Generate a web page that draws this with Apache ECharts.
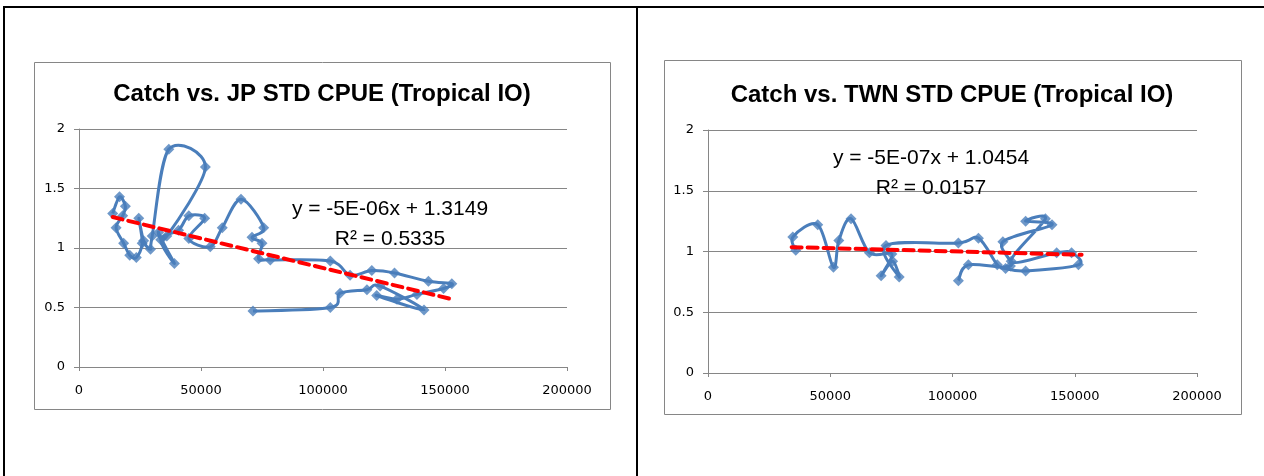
<!DOCTYPE html>
<html>
<head>
<meta charset="utf-8">
<script src="https://cdn.jsdelivr.net/npm/echarts@6.0.0/dist/echarts.min.js"></script>
<style>
html, body { margin: 0; padding: 0; background: #fff; }
#main { width: 1264px; height: 476px; }
</style>
</head>
<body>
<div id="main"></div>
<script>
// axis ranges / ticks (same for both panels)
var xTicks = [0, 50000, 100000, 150000, 200000];
var yTicks = [0, 0.5, 1, 1.5, 2];

// JP STD CPUE vs catch, in series order
var jpCatch = [13800, 16600, 19000, 17900, 15200, 18300, 20800, 23500, 25900, 24500,
    26500, 29300, 30000, 36800, 51800, 36000, 32600, 39100, 33500, 40800,
    45000, 51500, 45000, 53800, 58700, 66400, 75700, 70900, 75000, 73600,
    78400, 103000, 111100, 120000, 129300, 143200, 152800, 149400, 138500, 130300,
    122000, 141400, 123400, 118000, 107000, 103000, 71300];
var jpCpue = [1.29, 1.43, 1.35, 1.27, 1.17, 1.04, 0.94, 0.92, 1.04, 1.25,
    1.06, 0.99, 1.10, 1.83, 1.68, 1.10, 1.13, 0.87, 1.07, 1.15,
    1.27, 1.25, 1.08, 1.01, 1.17, 1.41, 1.17, 1.09, 1.04, 0.91,
    0.90, 0.89, 0.77, 0.81, 0.79, 0.72, 0.70, 0.66, 0.61, 0.57,
    0.60, 0.48, 0.68, 0.65, 0.62, 0.50, 0.47];
// linear trend line ends
var jpTrendX = [13800, 152800];
var jpTrendY = [1.26, 0.57];

// TWN STD CPUE vs catch
var twnCatch = [35900, 34700, 44900, 51300, 53500, 58500, 66000, 75200, 70800, 75500,
    78200, 72800, 102400, 110600, 118300, 121700, 129900, 151500, 148700, 142600,
    124000, 138000, 129900, 140700, 120600, 123700, 106500, 102400];
var twnCpue = [1.01, 1.12, 1.22, 0.87, 1.09, 1.27, 0.99, 0.98, 0.80, 0.92,
    0.79, 1.05, 1.07, 1.11, 0.89, 0.86, 0.84, 0.89, 0.99, 0.99,
    0.92, 1.27, 1.25, 1.22, 1.08, 0.88, 0.89, 0.76];
var twnTrendX = [34200, 152800];
var twnTrendY = [1.036, 0.973];

function pairs(xs, ys) {
    var out = [];
    for (var i = 0; i < xs.length; i++) {
        out.push([xs[i], ys[i]]);
    }
    return out;
}

var gray = '#868686';
var blue = '#4A7EBB';
var labelFont = { fontFamily: 'DejaVu Sans', fontSize: 13, color: '#000' };

function xAx(gridIndex) {
    return {
        type: 'value', gridIndex: gridIndex,
        min: xTicks[0], max: xTicks[xTicks.length - 1], interval: xTicks[1] - xTicks[0],
        axisLine: { lineStyle: { color: gray, width: 1 } },
        axisTick: { show: true, length: 4, lineStyle: { color: gray } },
        splitLine: { show: false },
        axisLabel: Object.assign({ margin: 17, formatter: function (v) { return String(v); } }, labelFont)
    };
}
function yAx(gridIndex) {
    return {
        type: 'value', gridIndex: gridIndex,
        min: yTicks[0], max: yTicks[yTicks.length - 1], interval: yTicks[1] - yTicks[0],
        axisLine: { show: true, lineStyle: { color: gray, width: 1 } },
        axisTick: { show: true, length: 5, lineStyle: { color: gray } },
        splitLine: { show: true, lineStyle: { color: gray, width: 1 } },
        axisLabel: Object.assign({ margin: 14 }, labelFont)
    };
}

// Excel-like smoothed line: Catmull-Rom through the points, in pixel space
function curveSeries(idx, xs, ys) {
    return {
        type: 'custom', xAxisIndex: idx, yAxisIndex: idx,
        data: pairs(xs, ys),
        silent: true,
        z: 2,
        renderItem: function (params, api) {
            if (params.dataIndex !== 0) return;
            var p = [];
            for (var i = 0; i < xs.length; i++) p.push(api.coord([xs[i], ys[i]]));
            var t = 1 / 6;
            var d = 'M' + p[0][0] + ' ' + p[0][1];
            for (var j = 0; j < p.length - 1; j++) {
                var p0 = p[j > 0 ? j - 1 : j], p1 = p[j], p2 = p[j + 1];
                var p3 = p[j + 2 < p.length ? j + 2 : j + 1];
                var c1x = p1[0] + (p2[0] - p0[0]) * t, c1y = p1[1] + (p2[1] - p0[1]) * t;
                var c2x = p2[0] - (p3[0] - p1[0]) * t, c2y = p2[1] - (p3[1] - p1[1]) * t;
                d += ' C' + c1x + ' ' + c1y + ' ' + c2x + ' ' + c2y + ' ' + p2[0] + ' ' + p2[1];
            }
            return {
                type: 'path',
                shape: { pathData: d },
                style: { fill: 'none', stroke: blue, lineWidth: 3, lineJoin: 'round' }
            };
        }
    };
}
function markerSeries(idx, xs, ys) {
    return {
        type: 'scatter', xAxisIndex: idx, yAxisIndex: idx,
        data: pairs(xs, ys),
        symbol: 'diamond', symbolSize: 11,
        itemStyle: { color: blue },
        z: 3
    };
}
function trendSeries(idx, xs, ys) {
    return {
        type: 'line', xAxisIndex: idx, yAxisIndex: idx,
        data: pairs(xs, ys),
        symbol: 'none',
        lineStyle: { color: '#ff0000', width: 4, type: [10, 6], cap: 'round' },
        z: 4
    };
}
function txt(x, y, s, size, bold) {
    return {
        type: 'text', x: x, y: y, z: 10,
        style: {
            text: s, fill: '#000', align: 'center', verticalAlign: 'middle',
            font: (bold ? 'bold ' : '') + size + 'px "Liberation Sans", Arial, sans-serif'
        }
    };
}

var myChart = echarts.init(document.getElementById('main'));

myChart.setOption({
    animation: false,
    grid: [
        { left: 79, top: 129, width: 488, height: 238 },
        { left: 708, top: 130, width: 489, height: 243 }
    ],
    xAxis: [xAx(0), xAx(1)],
    yAxis: [yAx(0), yAx(1)],
    series: [
        curveSeries(0, jpCatch, jpCpue),
        markerSeries(0, jpCatch, jpCpue),
        trendSeries(0, jpTrendX, jpTrendY),
        curveSeries(1, twnCatch, twnCpue),
        markerSeries(1, twnCatch, twnCpue),
        trendSeries(1, twnTrendX, twnTrendY)
    ],
    graphic: [
        // table borders
        { type: 'rect', shape: { x: 3, y: 6, width: 1261, height: 2 }, style: { fill: '#000' } },
        { type: 'rect', shape: { x: 3, y: 6, width: 2, height: 470 }, style: { fill: '#000' } },
        { type: 'rect', shape: { x: 636, y: 6, width: 2, height: 470 }, style: { fill: '#000' } },
        // chart area frames
        { type: 'rect', shape: { x: 34.5, y: 62.5, width: 576, height: 347 },
          style: { fill: 'none', stroke: gray, lineWidth: 1 } },
        { type: 'rect', shape: { x: 664.5, y: 60.5, width: 577, height: 354 },
          style: { fill: 'none', stroke: gray, lineWidth: 1 } },
        // titles
        txt(322, 94, 'Catch vs. JP STD CPUE (Tropical IO)', 24, true),
        txt(952, 95, 'Catch vs. TWN STD CPUE (Tropical IO)', 24, true),
        // trend equations
        txt(390, 209, 'y = -5E-06x + 1.3149', 21, false),
        txt(390, 239, 'R² = 0.5335', 21, false),
        txt(931, 158, 'y = -5E-07x + 1.0454', 21, false),
        txt(931, 188, 'R² = 0.0157', 21, false)
    ]
});
</script>
</body>
</html>
